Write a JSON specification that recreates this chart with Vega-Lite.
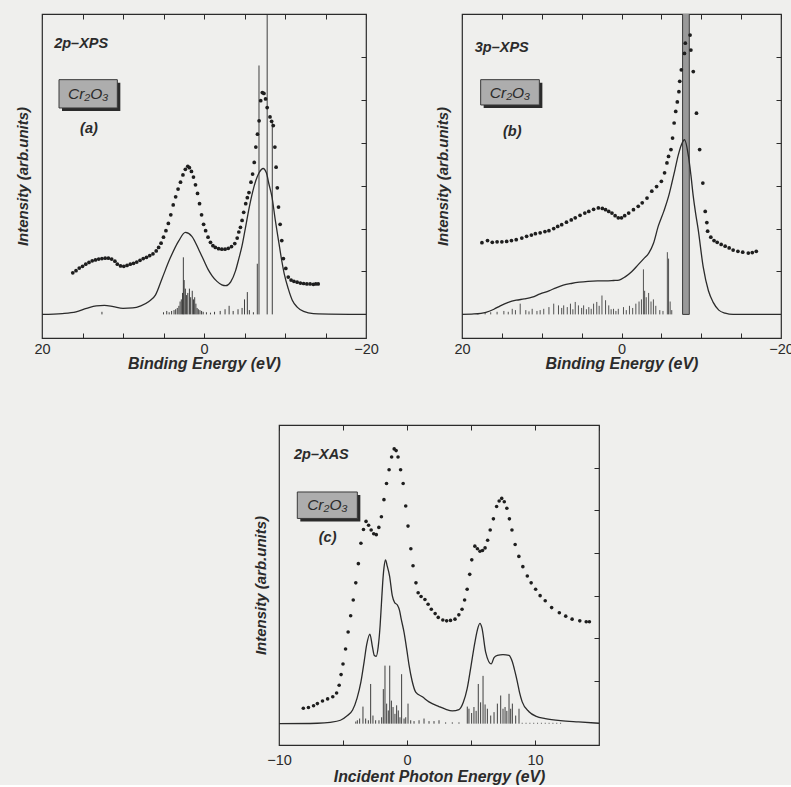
{
"$schema":"https://vega.github.io/schema/vega-lite/v6.json",
"background":"#efefed",
"padding":{"left":14,"top":12,"right":0,"bottom":0},
"autosize":{"type":"pad"},
"spacing":50,
"config":{
 "font":"Liberation Sans",
 "view":{"stroke":"#2b2b2b","strokeWidth":1.2},
 "axis":{"domain":false,"grid":false,"labelFont":"Liberation Sans","titleFont":"Liberation Sans","labelFontSize":14.5,"labelColor":"#2b2b2b","titleColor":"#2b2b2b","titleFontWeight":"bold","titleFontStyle":"italic","tickColor":"#2b2b2b","tickWidth":1}
},
"datasets":{
 "a_ex":[{"e":16.2,"i":0.97},{"e":15.8,"i":1.02},{"e":15.4,"i":1.08},{"e":15.0,"i":1.12},{"e":14.6,"i":1.17},{"e":14.2,"i":1.21},{"e":13.8,"i":1.25},{"e":13.4,"i":1.27},{"e":13.0,"i":1.29},{"e":12.6,"i":1.3},{"e":12.2,"i":1.31},{"e":11.8,"i":1.31},{"e":11.4,"i":1.29},{"e":11.0,"i":1.24},{"e":10.7,"i":1.17},{"e":10.3,"i":1.13},{"e":9.9,"i":1.12},{"e":9.5,"i":1.14},{"e":9.1,"i":1.17},{"e":8.7,"i":1.19},{"e":8.3,"i":1.22},{"e":7.9,"i":1.26},{"e":7.5,"i":1.3},{"e":7.1,"i":1.33},{"e":6.7,"i":1.37},{"e":6.3,"i":1.41},{"e":5.9,"i":1.48},{"e":5.6,"i":1.56},{"e":5.3,"i":1.66},{"e":5.0,"i":1.8},{"e":4.7,"i":1.95},{"e":4.4,"i":2.12},{"e":4.1,"i":2.32},{"e":3.8,"i":2.55},{"e":3.5,"i":2.74},{"e":3.2,"i":2.92},{"e":2.9,"i":3.08},{"e":2.6,"i":3.25},{"e":2.3,"i":3.38},{"e":2.0,"i":3.45},{"e":1.8,"i":3.42},{"e":1.55,"i":3.33},{"e":1.3,"i":3.2},{"e":1.05,"i":3.02},{"e":0.8,"i":2.82},{"e":0.55,"i":2.58},{"e":0.3,"i":2.32},{"e":0.05,"i":2.1},{"e":-0.2,"i":1.95},{"e":-0.5,"i":1.8},{"e":-0.8,"i":1.68},{"e":-1.1,"i":1.6},{"e":-1.4,"i":1.56},{"e":-1.8,"i":1.53},{"e":-2.2,"i":1.52},{"e":-2.6,"i":1.52},{"e":-3.0,"i":1.54},{"e":-3.4,"i":1.58},{"e":-3.8,"i":1.65},{"e":-4.1,"i":1.78},{"e":-4.3,"i":1.92},{"e":-4.5,"i":2.03},{"e":-4.7,"i":2.19},{"e":-4.9,"i":2.38},{"e":-5.15,"i":2.58},{"e":-5.35,"i":2.72},{"e":-5.55,"i":2.84},{"e":-5.8,"i":3.08},{"e":-6.0,"i":3.27},{"e":-6.2,"i":3.54},{"e":-6.4,"i":3.9},{"e":-6.6,"i":4.2},{"e":-6.8,"i":4.51},{"e":-7.0,"i":4.98},{"e":-7.2,"i":5.17},{"e":-7.4,"i":5.15},{"e":-7.6,"i":5.02},{"e":-7.8,"i":4.82},{"e":-8.15,"i":4.6},{"e":-8.35,"i":4.5},{"e":-8.55,"i":4.4},{"e":-8.75,"i":3.9},{"e":-8.9,"i":3.43},{"e":-9.05,"i":2.95},{"e":-9.2,"i":2.5},{"e":-9.4,"i":2.1},{"e":-9.6,"i":1.72},{"e":-9.8,"i":1.3},{"e":-10.1,"i":1.07},{"e":-10.4,"i":0.87},{"e":-10.75,"i":0.8},{"e":-11.1,"i":0.77},{"e":-11.5,"i":0.75},{"e":-11.9,"i":0.73},{"e":-12.3,"i":0.72},{"e":-12.7,"i":0.71},{"e":-13.1,"i":0.71},{"e":-13.5,"i":0.7},{"e":-13.8,"i":0.71},{"e":-14.1,"i":0.71}],
 "a_th":[{"e":20,"i":0},{"e":17.5,"i":0.02},{"e":15.8,"i":0.06},{"e":14.5,"i":0.14},{"e":13.3,"i":0.2},{"e":12.3,"i":0.21},{"e":11.2,"i":0.18},{"e":10,"i":0.14},{"e":8.8,"i":0.15},{"e":7.8,"i":0.2},{"e":6.8,"i":0.3},{"e":6.0,"i":0.45},{"e":5.15,"i":0.85},{"e":4.2,"i":1.3},{"e":3.1,"i":1.72},{"e":2.3,"i":1.91},{"e":1.5,"i":1.82},{"e":0.6,"i":1.49},{"e":0,"i":1.25},{"e":-0.5,"i":1.05},{"e":-1.0,"i":0.9},{"e":-1.6,"i":0.77},{"e":-2.2,"i":0.69},{"e":-2.7,"i":0.67},{"e":-3.3,"i":0.76},{"e":-3.9,"i":1.02},{"e":-4.3,"i":1.3},{"e":-4.7,"i":1.6},{"e":-5.1,"i":2.0},{"e":-5.55,"i":2.46},{"e":-6.0,"i":2.85},{"e":-6.4,"i":3.12},{"e":-6.8,"i":3.3},{"e":-7.3,"i":3.4},{"e":-7.7,"i":3.3},{"e":-8.0,"i":3.05},{"e":-8.4,"i":2.73},{"e":-8.8,"i":2.2},{"e":-9.26,"i":1.65},{"e":-9.6,"i":1.25},{"e":-9.9,"i":0.95},{"e":-10.4,"i":0.6},{"e":-10.9,"i":0.33},{"e":-11.5,"i":0.17},{"e":-12.3,"i":0.07},{"e":-13.5,"i":0.02},{"e":-20,"i":0}],
 "a_st":[{"e":12.6,"h":0.06},{"e":5.0,"h":0.05},{"e":4.6,"h":0.08},{"e":4.3,"h":0.05},{"e":4.0,"h":0.08},{"e":3.7,"h":0.1},{"e":3.5,"h":0.12},{"e":3.3,"h":0.15},{"e":3.1,"h":0.2},{"e":2.95,"h":0.3},{"e":2.8,"h":0.35},{"e":2.65,"h":0.5},{"e":2.55,"h":1.33},{"e":2.45,"h":0.8},{"e":2.3,"h":0.6},{"e":2.15,"h":0.45},{"e":2.0,"h":0.5},{"e":1.8,"h":0.6},{"e":1.65,"h":0.4},{"e":1.45,"h":0.55},{"e":1.3,"h":0.35},{"e":1.15,"h":0.4},{"e":1.0,"h":0.25},{"e":0.85,"h":0.15},{"e":0.7,"h":0.12},{"e":0.5,"h":0.1},{"e":0.3,"h":0.08},{"e":0.1,"h":0.06},{"e":-0.3,"h":0.05},{"e":-0.8,"h":0.04},{"e":-1.3,"h":0.06},{"e":-2.0,"h":0.08},{"e":-2.6,"h":0.12},{"e":-3.1,"h":0.2},{"e":-3.6,"h":0.08},{"e":-4.2,"h":0.12},{"e":-4.7,"h":0.15},{"e":-5.0,"h":0.35},{"e":-5.35,"h":0.52},{"e":-5.6,"h":0.1},{"e":-6.1,"h":0.05},{"e":-6.58,"h":1.18},{"e":-6.79,"h":5.8},{"e":-7.8,"h":7.5},{"e":-8.43,"h":4.5}],
 "b_ex":[{"e":17.5,"i":1.67},{"e":16.8,"i":1.72},{"e":16.2,"i":1.68},{"e":15.6,"i":1.69},{"e":15.0,"i":1.69},{"e":14.4,"i":1.7},{"e":13.8,"i":1.72},{"e":13.2,"i":1.74},{"e":12.5,"i":1.78},{"e":11.9,"i":1.82},{"e":11.3,"i":1.85},{"e":10.8,"i":1.88},{"e":10.2,"i":1.9},{"e":9.6,"i":1.93},{"e":9.1,"i":1.95},{"e":8.5,"i":2.0},{"e":8.0,"i":2.05},{"e":7.5,"i":2.09},{"e":6.9,"i":2.15},{"e":6.3,"i":2.2},{"e":5.8,"i":2.25},{"e":5.2,"i":2.31},{"e":4.6,"i":2.36},{"e":4.1,"i":2.4},{"e":3.5,"i":2.45},{"e":2.9,"i":2.48},{"e":2.4,"i":2.47},{"e":2.0,"i":2.44},{"e":1.6,"i":2.4},{"e":1.2,"i":2.36},{"e":0.8,"i":2.3},{"e":0.4,"i":2.25},{"e":0.0,"i":2.25},{"e":-0.4,"i":2.3},{"e":-0.9,"i":2.36},{"e":-1.5,"i":2.44},{"e":-2.1,"i":2.52},{"e":-2.6,"i":2.6},{"e":-3.2,"i":2.71},{"e":-3.8,"i":2.87},{"e":-4.4,"i":2.98},{"e":-5.0,"i":3.1},{"e":-5.4,"i":3.3},{"e":-5.7,"i":3.53},{"e":-5.9,"i":3.68},{"e":-6.2,"i":3.84},{"e":-6.4,"i":4.11},{"e":-6.6,"i":4.46},{"e":-6.8,"i":4.73},{"e":-7.0,"i":4.95},{"e":-7.2,"i":5.19},{"e":-7.3,"i":5.43},{"e":-7.5,"i":5.7},{"e":-7.9,"i":6.08},{"e":-8.0,"i":6.32},{"e":-8.6,"i":6.51},{"e":-8.7,"i":6.16},{"e":-9.0,"i":5.66},{"e":-9.4,"i":4.69},{"e":-9.8,"i":3.84},{"e":-10.2,"i":3.06},{"e":-10.5,"i":2.4},{"e":-10.7,"i":2.14},{"e":-10.8,"i":1.94},{"e":-11.2,"i":1.8},{"e":-11.6,"i":1.72},{"e":-12.0,"i":1.68},{"e":-12.5,"i":1.63},{"e":-13.0,"i":1.59},{"e":-13.5,"i":1.55},{"e":-14.0,"i":1.5},{"e":-14.6,"i":1.47},{"e":-15.2,"i":1.45},{"e":-15.9,"i":1.43},{"e":-16.4,"i":1.44},{"e":-16.9,"i":1.47}],
 "b_th":[{"e":20,"i":0},{"e":18.5,"i":0.01},{"e":17,"i":0.05},{"e":16,"i":0.12},{"e":15.2,"i":0.2},{"e":14.2,"i":0.28},{"e":13.2,"i":0.33},{"e":12.2,"i":0.36},{"e":11.2,"i":0.4},{"e":10.2,"i":0.48},{"e":9.1,"i":0.55},{"e":8.2,"i":0.62},{"e":7.3,"i":0.68},{"e":6.3,"i":0.72},{"e":5.3,"i":0.75},{"e":4.2,"i":0.77},{"e":3.0,"i":0.78},{"e":2.0,"i":0.78},{"e":1.0,"i":0.79},{"e":0.3,"i":0.8},{"e":-0.5,"i":0.88},{"e":-1.3,"i":1.0},{"e":-2.1,"i":1.16},{"e":-2.8,"i":1.3},{"e":-3.4,"i":1.42},{"e":-4.0,"i":1.65},{"e":-4.6,"i":2.05},{"e":-5.3,"i":2.4},{"e":-5.9,"i":2.75},{"e":-6.3,"i":3.05},{"e":-6.7,"i":3.37},{"e":-7.1,"i":3.7},{"e":-7.5,"i":3.95},{"e":-7.9,"i":4.07},{"e":-8.4,"i":3.68},{"e":-8.7,"i":3.25},{"e":-9.0,"i":2.75},{"e":-9.3,"i":2.35},{"e":-9.6,"i":2.0},{"e":-10.25,"i":1.1},{"e":-10.9,"i":0.55},{"e":-11.5,"i":0.28},{"e":-12.2,"i":0.1},{"e":-13,"i":0.03},{"e":-14,"i":0},{"e":-20,"i":0}],
 "b_st":[{"e":18.0,"h":0.03},{"e":17.1,"h":0.04},{"e":16.4,"h":0.05},{"e":15.6,"h":0.06},{"e":14.75,"h":0.08},{"e":14.2,"h":0.06},{"e":13.7,"h":0.13},{"e":13.3,"h":0.1},{"e":12.7,"h":0.25},{"e":12.0,"h":0.1},{"e":11.6,"h":0.07},{"e":11.2,"h":0.13},{"e":10.6,"h":0.08},{"e":10.2,"h":0.1},{"e":9.75,"h":0.13},{"e":9.1,"h":0.17},{"e":8.5,"h":0.25},{"e":7.9,"h":0.21},{"e":7.5,"h":0.15},{"e":7.25,"h":0.21},{"e":6.8,"h":0.17},{"e":6.4,"h":0.25},{"e":6.1,"h":0.12},{"e":5.8,"h":0.29},{"e":5.4,"h":0.21},{"e":5.0,"h":0.15},{"e":4.75,"h":0.21},{"e":4.4,"h":0.12},{"e":4.1,"h":0.17},{"e":3.8,"h":0.13},{"e":3.5,"h":0.25},{"e":3.1,"h":0.29},{"e":2.8,"h":0.2},{"e":2.45,"h":0.44},{"e":2.0,"h":0.33},{"e":1.6,"h":0.21},{"e":1.3,"h":0.12},{"e":1.0,"h":0.13},{"e":0.7,"h":0.08},{"e":0.4,"h":0.13},{"e":-0.25,"h":0.17},{"e":-0.6,"h":0.1},{"e":-1.0,"h":0.2},{"e":-1.4,"h":0.15},{"e":-1.8,"h":0.25},{"e":-2.2,"h":0.3},{"e":-2.5,"h":0.35},{"e":-2.75,"h":1.05},{"e":-2.9,"h":0.55},{"e":-3.1,"h":0.4},{"e":-3.4,"h":0.5},{"e":-3.7,"h":0.3},{"e":-4.0,"h":0.35},{"e":-4.3,"h":0.2},{"e":-4.8,"h":0.1},{"e":-5.2,"h":0.08},{"e":-5.75,"h":1.45},{"e":-5.9,"h":1.3},{"e":-6.1,"h":0.3},{"e":-6.3,"h":0.1}],
 "b_band":[{"lo":-7.66,"hi":-8.5,"top":7.5}],
 "c_ex":[{"e":-8.1,"i":0.36},{"e":-7.7,"i":0.38},{"e":-7.3,"i":0.42},{"e":-7.0,"i":0.47},{"e":-6.6,"i":0.53},{"e":-6.2,"i":0.58},{"e":-5.8,"i":0.63},{"e":-5.5,"i":0.72},{"e":-5.3,"i":0.9},{"e":-5.15,"i":1.15},{"e":-5.0,"i":1.4},{"e":-4.8,"i":1.75},{"e":-4.6,"i":2.15},{"e":-4.4,"i":2.53},{"e":-4.2,"i":2.9},{"e":-4.0,"i":3.3},{"e":-3.8,"i":3.75},{"e":-3.6,"i":4.23},{"e":-3.4,"i":4.55},{"e":-3.2,"i":4.74},{"e":-3.0,"i":4.65},{"e":-2.8,"i":4.54},{"e":-2.6,"i":4.45},{"e":-2.4,"i":4.43},{"e":-2.2,"i":4.6},{"e":-2.0,"i":4.85},{"e":-1.8,"i":5.25},{"e":-1.6,"i":5.63},{"e":-1.4,"i":5.95},{"e":-1.2,"i":6.25},{"e":-1.0,"i":6.44},{"e":-0.85,"i":6.4},{"e":-0.7,"i":6.25},{"e":-0.5,"i":5.95},{"e":-0.3,"i":5.63},{"e":-0.1,"i":5.1},{"e":0.08,"i":4.63},{"e":0.3,"i":4.1},{"e":0.47,"i":3.7},{"e":0.7,"i":3.3},{"e":0.87,"i":3.07},{"e":1.1,"i":2.98},{"e":1.4,"i":2.91},{"e":1.65,"i":2.8},{"e":1.9,"i":2.68},{"e":2.2,"i":2.58},{"e":2.44,"i":2.49},{"e":2.8,"i":2.43},{"e":3.1,"i":2.41},{"e":3.4,"i":2.42},{"e":3.75,"i":2.45},{"e":4.05,"i":2.55},{"e":4.3,"i":2.68},{"e":4.5,"i":2.9},{"e":4.7,"i":3.15},{"e":4.9,"i":3.5},{"e":5.06,"i":3.84},{"e":5.3,"i":4.16},{"e":5.5,"i":4.1},{"e":5.7,"i":4.04},{"e":5.9,"i":4.06},{"e":6.1,"i":4.12},{"e":6.3,"i":4.3},{"e":6.5,"i":4.54},{"e":6.75,"i":4.8},{"e":7.0,"i":5.09},{"e":7.2,"i":5.22},{"e":7.4,"i":5.28},{"e":7.6,"i":5.2},{"e":7.8,"i":5.05},{"e":8.0,"i":4.8},{"e":8.2,"i":4.54},{"e":8.45,"i":4.2},{"e":8.74,"i":3.92},{"e":9.05,"i":3.68},{"e":9.4,"i":3.46},{"e":9.7,"i":3.3},{"e":10.05,"i":3.15},{"e":10.4,"i":3.0},{"e":10.8,"i":2.88},{"e":11.3,"i":2.72},{"e":11.9,"i":2.6},{"e":12.4,"i":2.52},{"e":12.9,"i":2.45},{"e":13.5,"i":2.41},{"e":14.0,"i":2.39},{"e":14.25,"i":2.39}],
 "c_th":[{"e":-10,"i":0},{"e":-7,"i":0.01},{"e":-6,"i":0.03},{"e":-5.2,"i":0.08},{"e":-4.7,"i":0.18},{"e":-4.25,"i":0.32},{"e":-3.9,"i":0.6},{"e":-3.6,"i":0.98},{"e":-3.35,"i":1.45},{"e":-3.15,"i":1.85},{"e":-2.9,"i":2.1},{"e":-2.7,"i":1.8},{"e":-2.55,"i":1.6},{"e":-2.4,"i":1.58},{"e":-2.25,"i":1.8},{"e":-2.1,"i":2.3},{"e":-2.0,"i":2.8},{"e":-1.9,"i":3.3},{"e":-1.8,"i":3.65},{"e":-1.68,"i":3.84},{"e":-1.55,"i":3.7},{"e":-1.36,"i":3.46},{"e":-1.15,"i":3.0},{"e":-0.97,"i":2.84},{"e":-0.75,"i":2.78},{"e":-0.58,"i":2.65},{"e":-0.45,"i":2.45},{"e":-0.23,"i":2.14},{"e":0.0,"i":1.7},{"e":0.16,"i":1.37},{"e":0.4,"i":1.0},{"e":0.68,"i":0.74},{"e":1.2,"i":0.63},{"e":1.72,"i":0.51},{"e":2.5,"i":0.4},{"e":3.0,"i":0.34},{"e":3.54,"i":0.3},{"e":4.06,"i":0.33},{"e":4.4,"i":0.5},{"e":4.7,"i":0.82},{"e":5.0,"i":1.35},{"e":5.3,"i":1.9},{"e":5.5,"i":2.2},{"e":5.7,"i":2.35},{"e":5.85,"i":2.25},{"e":6.15,"i":1.67},{"e":6.58,"i":1.4},{"e":6.8,"i":1.55},{"e":7.06,"i":1.6},{"e":7.5,"i":1.62},{"e":7.97,"i":1.6},{"e":8.23,"i":1.45},{"e":8.45,"i":1.2},{"e":8.62,"i":0.98},{"e":8.8,"i":0.72},{"e":9.0,"i":0.51},{"e":9.53,"i":0.28},{"e":10.1,"i":0.17},{"e":10.8,"i":0.12},{"e":12,"i":0.07},{"e":13.4,"i":0.04},{"e":15,"i":0.01}],
 "c_st":[{"e":-4.0,"h":0.05},{"e":-3.88,"h":0.08},{"e":-3.7,"h":0.12},{"e":-3.44,"h":0.4},{"e":-3.23,"h":0.12},{"e":-3.02,"h":0.08},{"e":-2.84,"h":0.93},{"e":-2.66,"h":0.19},{"e":-2.45,"h":0.08},{"e":-2.19,"h":0.08},{"e":-1.98,"h":0.15},{"e":-1.85,"h":0.81},{"e":-1.72,"h":1.36},{"e":-1.59,"h":0.47},{"e":-1.46,"h":0.31},{"e":-1.35,"h":1.36},{"e":-1.22,"h":0.54},{"e":-1.09,"h":0.39},{"e":-0.94,"h":0.23},{"e":-0.81,"h":0.43},{"e":-0.68,"h":0.31},{"e":-0.55,"h":0.15},{"e":-0.42,"h":1.16},{"e":-0.23,"h":0.12},{"e":-0.1,"h":0.15},{"e":0.08,"h":0.47},{"e":0.29,"h":0.08},{"e":0.55,"h":0.06},{"e":0.94,"h":0.08},{"e":1.33,"h":0.12},{"e":1.72,"h":0.06},{"e":2.11,"h":0.06},{"e":2.5,"h":0.08},{"e":3.02,"h":0.03},{"e":3.54,"h":0.03},{"e":4.06,"h":0.03},{"e":4.71,"h":0.4},{"e":4.84,"h":0.35},{"e":5.05,"h":0.25},{"e":5.23,"h":0.39},{"e":5.4,"h":0.3},{"e":5.57,"h":0.93},{"e":5.75,"h":0.5},{"e":5.94,"h":1.12},{"e":6.1,"h":0.45},{"e":6.28,"h":0.35},{"e":6.54,"h":0.19},{"e":6.8,"h":0.27},{"e":7.06,"h":0.47},{"e":7.32,"h":0.66},{"e":7.5,"h":0.35},{"e":7.66,"h":0.39},{"e":7.8,"h":0.3},{"e":7.97,"h":0.7},{"e":8.1,"h":0.35},{"e":8.23,"h":0.47},{"e":8.49,"h":0.19},{"e":8.75,"h":0.35},{"e":9.0,"h":0.02},{"e":9.3,"h":0.02},{"e":9.6,"h":0.02},{"e":9.9,"h":0.02},{"e":10.2,"h":0.02},{"e":10.5,"h":0.02},{"e":10.8,"h":0.02},{"e":11.1,"h":0.02},{"e":11.4,"h":0.02},{"e":11.7,"h":0.02},{"e":12.0,"h":0.02}]
},
"vconcat":[
 {"hconcat":[
  {"width":324,"height":324,
   "layer":[
    {"data":{"name":"a_st"},"mark":{"type":"rule","color":"#2b2b2b","strokeWidth":0.9,"clip":true},
     "encoding":{"x":{"field":"e","type":"quantitative","scale":{"domain":[20,-20],"nice":false,"zero":false},"axis":{"orient":"bottom","values":[15,10,5,0,-5,-10,-15],"tickSize":-5,"labels":false,"title":null}},
                 "y":{"field":"h","type":"quantitative","scale":{"domain":[-0.55,7],"nice":false,"zero":false},"axis":null},
                 "y2":{"datum":0}}},
    {"data":{"name":"a_th"},"mark":{"type":"line","color":"#2b2b2b","strokeWidth":1.3,"interpolate":"monotone"},
     "encoding":{"x":{"field":"e","type":"quantitative","scale":{"domain":[20,-20],"nice":false,"zero":false},"axis":{"orient":"top","values":[20,15,10,5,0,-5,-10,-15,-20],"tickSize":-5,"labels":false,"title":null}},
                 "y":{"field":"i","type":"quantitative","scale":{"domain":[-0.55,7],"nice":false,"zero":false},"axis":{"orient":"right","values":[1,2,3,4,5,6],"tickSize":-5,"labels":false,"title":null}}}},
    {"data":{"name":"a_ex"},"mark":{"type":"point","filled":true,"color":"#1e1e1e","size":14,"opacity":1},
     "encoding":{"x":{"field":"e","type":"quantitative","scale":{"domain":[20,-20],"nice":false,"zero":false},"axis":{"orient":"bottom","values":[20,0,-20],"ticks":false,"labelOverlap":false,"labelFlush":false,"labelPadding":4,"title":"Binding Energy (eV)","titleFontSize":16,"titlePadding":0}},
                 "y":{"field":"i","type":"quantitative","scale":{"domain":[-0.55,7],"nice":false,"zero":false},"axis":{"orient":"left","ticks":false,"labels":false,"title":"Intensity (arb.units)","titleFontSize":15,"titlePadding":12}}}},
    {"data":{"values":[{}]},"mark":{"type":"text","text":"2p–XPS","align":"left","baseline":"middle","fontSize":14.5,"fontWeight":"bold","fontStyle":"italic","color":"#2b2b2b"},
     "encoding":{"x":{"datum":18.5,"type":"quantitative","axis":null},"y":{"datum":6.3,"type":"quantitative","axis":null}}},
    {"data":{"values":[{}]},"mark":{"type":"rect","fill":"#2b2b2b","xOffset":3,"x2Offset":3,"yOffset":3,"y2Offset":3},
     "encoding":{"x":{"datum":17.9,"type":"quantitative","axis":null},"x2":{"datum":10.7},"y":{"datum":5.47,"type":"quantitative","axis":null},"y2":{"datum":4.81}}},
    {"data":{"values":[{}]},"mark":{"type":"rect","fill":"#adadad","stroke":"#3a3a3a","strokeWidth":1},
     "encoding":{"x":{"datum":17.9,"type":"quantitative","axis":null},"x2":{"datum":10.7},"y":{"datum":5.47,"type":"quantitative","axis":null},"y2":{"datum":4.81}}},
    {"data":{"values":[{}]},"mark":{"type":"text","text":"Cr₂O₃","align":"center","baseline":"middle","fontSize":15.5,"fontStyle":"italic","color":"#2b2b2b"},
     "encoding":{"x":{"datum":14.3,"type":"quantitative","axis":null},"y":{"datum":5.14,"type":"quantitative","axis":null}}},
    {"data":{"values":[{}]},"mark":{"type":"text","text":"(a)","align":"center","baseline":"middle","fontSize":14.5,"fontWeight":"bold","fontStyle":"italic","color":"#2b2b2b"},
     "encoding":{"x":{"datum":14.2,"type":"quantitative","axis":null},"y":{"datum":4.33,"type":"quantitative","axis":null}}}
   ],
   "resolve":{"axis":{"x":"independent","y":"independent"}}},
  {"width":319,"height":324,
   "layer":[
    {"data":{"name":"b_band"},"mark":{"type":"rect","fill":"#999999","stroke":"#3a3a3a","strokeWidth":1,"clip":true},
     "encoding":{"x":{"field":"lo","type":"quantitative","scale":{"domain":[20,-20],"nice":false,"zero":false},"axis":null},"x2":{"field":"hi"},
                 "y":{"field":"top","type":"quantitative","scale":{"domain":[-0.55,7],"nice":false,"zero":false},"axis":null},"y2":{"datum":0}}},
    {"data":{"name":"b_st"},"mark":{"type":"rule","color":"#2b2b2b","strokeWidth":0.8,"clip":true},
     "encoding":{"x":{"field":"e","type":"quantitative","scale":{"domain":[20,-20],"nice":false,"zero":false},"axis":{"orient":"bottom","values":[15,10,5,0,-5,-10,-15],"tickSize":-5,"labels":false,"title":null}},
                 "y":{"field":"h","type":"quantitative","scale":{"domain":[-0.55,7],"nice":false,"zero":false},"axis":null},
                 "y2":{"datum":0}}},
    {"data":{"name":"b_th"},"mark":{"type":"line","color":"#2b2b2b","strokeWidth":1.3,"interpolate":"monotone"},
     "encoding":{"x":{"field":"e","type":"quantitative","scale":{"domain":[20,-20],"nice":false,"zero":false},"axis":{"orient":"top","values":[20,15,10,5,0,-5,-10,-15,-20],"tickSize":-5,"labels":false,"title":null}},
                 "y":{"field":"i","type":"quantitative","scale":{"domain":[-0.55,7],"nice":false,"zero":false},"axis":{"orient":"right","values":[1,2,3,4,5,6],"tickSize":-5,"labels":false,"title":null}}}},
    {"data":{"name":"b_ex"},"mark":{"type":"point","filled":true,"color":"#1e1e1e","size":14,"opacity":1},
     "encoding":{"x":{"field":"e","type":"quantitative","scale":{"domain":[20,-20],"nice":false,"zero":false},"axis":{"orient":"bottom","values":[20,0,-20],"ticks":false,"labelOverlap":false,"labelFlush":false,"labelPadding":4,"title":"Binding Energy (eV)","titleFontSize":16,"titlePadding":0}},
                 "y":{"field":"i","type":"quantitative","scale":{"domain":[-0.55,7],"nice":false,"zero":false},"axis":{"orient":"left","ticks":false,"labels":false,"title":"Intensity (arb.units)","titleFontSize":15,"titlePadding":12}}}},
    {"data":{"values":[{}]},"mark":{"type":"text","text":"3p–XPS","align":"left","baseline":"middle","fontSize":14.5,"fontWeight":"bold","fontStyle":"italic","color":"#2b2b2b"},
     "encoding":{"x":{"datum":18.4,"type":"quantitative","axis":null},"y":{"datum":6.2,"type":"quantitative","axis":null}}},
    {"data":{"values":[{}]},"mark":{"type":"rect","fill":"#2b2b2b","xOffset":3,"x2Offset":3,"yOffset":3,"y2Offset":3},
     "encoding":{"x":{"datum":17.66,"type":"quantitative","axis":null},"x2":{"datum":10.3},"y":{"datum":5.47,"type":"quantitative","axis":null},"y2":{"datum":4.88}}},
    {"data":{"values":[{}]},"mark":{"type":"rect","fill":"#adadad","stroke":"#3a3a3a","strokeWidth":1},
     "encoding":{"x":{"datum":17.66,"type":"quantitative","axis":null},"x2":{"datum":10.3},"y":{"datum":5.47,"type":"quantitative","axis":null},"y2":{"datum":4.88}}},
    {"data":{"values":[{}]},"mark":{"type":"text","text":"Cr₂O₃","align":"center","baseline":"middle","fontSize":15.5,"fontStyle":"italic","color":"#2b2b2b"},
     "encoding":{"x":{"datum":13.98,"type":"quantitative","axis":null},"y":{"datum":5.17,"type":"quantitative","axis":null}}},
    {"data":{"values":[{}]},"mark":{"type":"text","text":"(b)","align":"center","baseline":"middle","fontSize":14.5,"fontWeight":"bold","fontStyle":"italic","color":"#2b2b2b"},
     "encoding":{"x":{"datum":13.7,"type":"quantitative","axis":null},"y":{"datum":4.26,"type":"quantitative","axis":null}}}
   ],
   "resolve":{"axis":{"x":"independent","y":"independent"}}}
 ],"spacing":96,"bounds":"flush"},
 {"hconcat":[
  {"width":237,"height":320,"view":{"stroke":null},"data":{"values":[]},"mark":"point"},
  {"width":320,"height":320,
   "layer":[
    {"data":{"name":"c_st"},"mark":{"type":"rule","color":"#2b2b2b","strokeWidth":0.9,"clip":true},
     "encoding":{"x":{"field":"e","type":"quantitative","scale":{"domain":[-10,15],"nice":false,"zero":false},"axis":{"orient":"bottom","values":[-5,0,5,10],"tickSize":-5,"labels":false,"title":null}},
                 "y":{"field":"h","type":"quantitative","scale":{"domain":[-0.5,7],"nice":false,"zero":false},"axis":null},
                 "y2":{"datum":0}}},
    {"data":{"name":"c_th"},"mark":{"type":"line","color":"#2b2b2b","strokeWidth":1.3,"interpolate":"monotone"},
     "encoding":{"x":{"field":"e","type":"quantitative","scale":{"domain":[-10,15],"nice":false,"zero":false},"axis":{"orient":"top","values":[-10,-5,0,5,10,15],"tickSize":-5,"labels":false,"title":null}},
                 "y":{"field":"i","type":"quantitative","scale":{"domain":[-0.5,7],"nice":false,"zero":false},"axis":{"orient":"right","values":[1,2,3,4,5,6],"tickSize":-5,"labels":false,"title":null}}}},
    {"data":{"name":"c_ex"},"mark":{"type":"point","filled":true,"color":"#1e1e1e","size":13,"opacity":1},
     "encoding":{"x":{"field":"e","type":"quantitative","scale":{"domain":[-10,15],"nice":false,"zero":false},"axis":{"orient":"bottom","values":[-10,0,10],"ticks":false,"labelOverlap":false,"labelFlush":false,"labelPadding":8,"title":"Incident Photon Energy (eV)","titleFontSize":15.8,"titlePadding":3}},
                 "y":{"field":"i","type":"quantitative","scale":{"domain":[-0.5,7],"nice":false,"zero":false},"axis":{"orient":"left","ticks":false,"labels":false,"title":"Intensity (arb.units)","titleFontSize":15,"titlePadding":11}}}},
    {"data":{"values":[{}]},"mark":{"type":"text","text":"2p–XAS","align":"left","baseline":"middle","fontSize":14.5,"fontWeight":"bold","fontStyle":"italic","color":"#2b2b2b"},
     "encoding":{"x":{"datum":-8.83,"type":"quantitative","axis":null},"y":{"datum":6.29,"type":"quantitative","axis":null}}},
    {"data":{"values":[{}]},"mark":{"type":"rect","fill":"#2b2b2b","xOffset":3,"x2Offset":3,"yOffset":3,"y2Offset":3},
     "encoding":{"x":{"datum":-8.57,"type":"quantitative","axis":null},"x2":{"datum":-3.88},"y":{"datum":5.43,"type":"quantitative","axis":null},"y2":{"datum":4.81}}},
    {"data":{"values":[{}]},"mark":{"type":"rect","fill":"#adadad","stroke":"#3a3a3a","strokeWidth":1},
     "encoding":{"x":{"datum":-8.57,"type":"quantitative","axis":null},"x2":{"datum":-3.88},"y":{"datum":5.43,"type":"quantitative","axis":null},"y2":{"datum":4.81}}},
    {"data":{"values":[{}]},"mark":{"type":"text","text":"Cr₂O₃","align":"center","baseline":"middle","fontSize":15.5,"fontStyle":"italic","color":"#2b2b2b"},
     "encoding":{"x":{"datum":-6.22,"type":"quantitative","axis":null},"y":{"datum":5.12,"type":"quantitative","axis":null}}},
    {"data":{"values":[{}]},"mark":{"type":"text","text":"(c)","align":"center","baseline":"middle","fontSize":14.5,"fontWeight":"bold","fontStyle":"italic","color":"#2b2b2b"},
     "encoding":{"x":{"datum":-6.2,"type":"quantitative","axis":null},"y":{"datum":4.35,"type":"quantitative","axis":null}}}
   ],
   "resolve":{"axis":{"x":"independent","y":"independent"}}}
 ],"spacing":0,"bounds":"flush"}
]
}
